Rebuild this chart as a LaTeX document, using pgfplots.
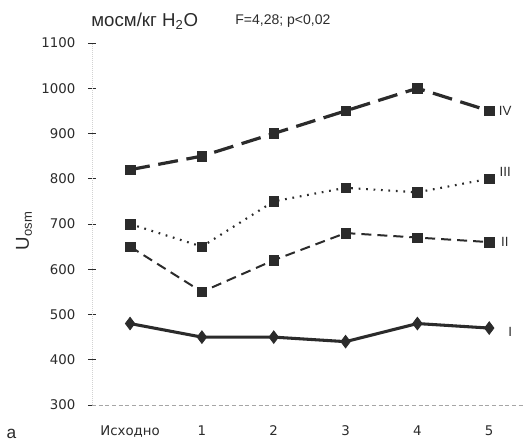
\documentclass[border=0pt]{standalone}
\usepackage{fontspec}
\setmainfont{Liberation Sans}
\newfontfamily\dejavu{DejaVu Sans}
\usepackage{pgfplots}
\pgfplotsset{compat=1.18}
\definecolor{ink}{HTML}{2B2B2B}

\begin{document}
\begin{tikzpicture}
\path[use as bounding box] (0,0) rectangle (394.5pt,330pt);
\begin{axis}[
    at={(69pt,26.25pt)}, anchor=south west,
    scale only axis,
    width=323.25pt, height=271.5pt,
    xmin=-0.53, xmax=5.47,
    ymin=300, ymax=1100,
    axis x line*=bottom, axis y line*=left,
    x axis line style={-, gray!70, densely dashed, line width=0.6pt},
    y axis line style={-, gray!35, densely dotted, line width=0.5pt},
    xtick={0,...,5},
    xticklabels={Исходно,1,2,3,4,5},
    ytick={300,400,...,1100},
    xtick style={draw=none},
    ytick style={ink, line width=0.7pt},
    tick align=center,
    major tick length=6pt,
    ticklabel style={font=\dejavu\fontsize{10}{12}\selectfont, text=ink},
    yticklabel style={xshift=-6pt},
    xticklabel style={yshift=-9pt},
    /pgf/number format/assume math mode=true,
    /pgf/number format/1000 sep={},
    clip=false,
]
% IV
\addplot[ink, line width=2.4pt, dash pattern=on 15pt off 6.5pt,
    mark=square*, mark size=3.6pt, mark options={solid, line width=0.4pt}] coordinates {
    (0,820) (1,850) (2,900) (3,950) (4,1000) (5,950)
};
% III
\addplot[ink, line width=1.6pt, dash pattern=on 1.3pt off 4.3pt,
    mark=square*, mark size=3.6pt, mark options={solid, line width=0.4pt}] coordinates {
    (0,700) (1,650) (2,750) (3,780) (4,770) (5,800)
};
% II
\addplot[ink, line width=1.5pt, dash pattern=on 7.5pt off 4.5pt,
    mark=square*, mark size=3.6pt, mark options={solid, line width=0.4pt}] coordinates {
    (0,650) (1,550) (2,620) (3,680) (4,670) (5,660)
};
% I
\addplot[ink, line width=2.3pt,
    mark=diamond*, mark size=4.7pt, mark options={line width=0.6pt}] coordinates {
    (0,480) (1,450) (2,450) (3,440) (4,480) (5,470)
};

\node[anchor=west, font=\fontsize{10}{12}\selectfont, text=ink] at (axis cs:5.07,950) {IV};
\node[anchor=west, font=\fontsize{10}{12}\selectfont, text=ink] at (axis cs:5.08,815) {III};
\node[anchor=west, font=\fontsize{10}{12}\selectfont, text=ink] at (axis cs:5.1,660) {II};
\node[anchor=west, font=\fontsize{10}{12}\selectfont, text=ink] at (axis cs:5.2,462) {I};
\end{axis}

\node[rotate=90, text=ink, font=\fontsize{14}{16}\selectfont] at (18pt,157pt) {U\textsubscript{osm}};
\node[anchor=west, text=ink, font=\fontsize{14}{16}\selectfont] at (65pt,314pt) {мосм/кг H\textsubscript{2}O};
\node[anchor=west, text=ink, font=\fontsize{10.5}{12}\selectfont] at (173pt,314pt) {F=4,28; p<0,02};
\node[anchor=base, text=ink, font=\fontsize{13}{15}\selectfont] at (8.5pt,1.5pt) {a};
\end{tikzpicture}
\end{document}
